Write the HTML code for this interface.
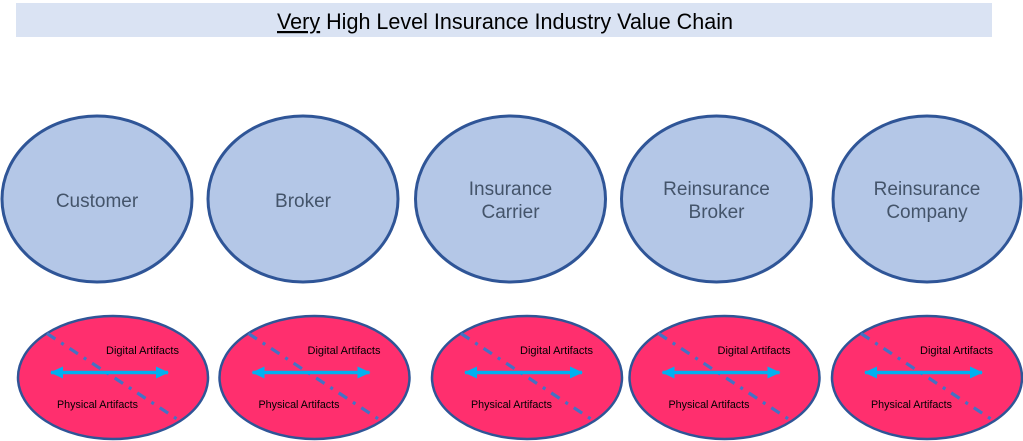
<!DOCTYPE html>
<html>
<head>
<meta charset="utf-8">
<style>
html,body{margin:0;padding:0;background:#fff;}
body{width:1023px;height:441px;overflow:hidden;}
svg{display:block;}
</style>
</head>
<body>
<svg width="1023" height="441" viewBox="0 0 1023 441" xmlns="http://www.w3.org/2000/svg">
  <defs>
    <marker id="ah" viewBox="0 0 13 12" refX="12" refY="6" markerWidth="13" markerHeight="12" markerUnits="userSpaceOnUse" orient="auto-start-reverse">
      <path d="M0,0 L13,6 L0,12 z" fill="#00b0f0"/>
    </marker>
  </defs>
  <!-- Title bar -->
  <rect x="16" y="3" width="976" height="34" fill="#dae3f3"/>
  <text x="277" y="29" font-family="Liberation Sans, sans-serif" font-size="22" fill="#000" textLength="456" lengthAdjust="spacingAndGlyphs"><tspan text-decoration="underline">Very</tspan> High Level Insurance Industry Value Chain</text>

  <!-- Blue ellipses -->
  <g fill="#b4c7e7" stroke="#2f5597" stroke-width="3">
    <ellipse cx="97" cy="199" rx="95" ry="83"/>
    <ellipse cx="303" cy="199" rx="95" ry="83"/>
    <ellipse cx="510.5" cy="199" rx="95" ry="83"/>
    <ellipse cx="716.5" cy="199" rx="95" ry="83"/>
    <ellipse cx="927" cy="199" rx="94" ry="83"/>
  </g>
  <g font-family="Liberation Sans, sans-serif" font-size="19" fill="#44546a" text-anchor="middle">
    <text x="97" y="207">Customer</text>
    <text x="303" y="207">Broker</text>
    <text x="510.5" y="195">Insurance</text>
    <text x="510.5" y="218">Carrier</text>
    <text x="716.5" y="195">Reinsurance</text>
    <text x="716.5" y="218">Broker</text>
    <text x="927" y="195">Reinsurance</text>
    <text x="927" y="218">Company</text>
  </g>

  <!-- Pink ellipses -->
  <g id="p1" transform="translate(113,377.5)">
    <ellipse cx="0" cy="0" rx="95" ry="61.5" fill="#ff2f6e" stroke="#2f5597" stroke-width="2.5"/>
    <line x1="-66" y1="-44" x2="67" y2="43.5" stroke="#4472c4" stroke-width="3.2" stroke-dasharray="10 7 3 7"/>
    <line x1="-62" y1="-5" x2="55" y2="-5" stroke="#00b0f0" stroke-width="3.5" marker-start="url(#ah)" marker-end="url(#ah)"/>
    <text x="-7" y="-23.5" font-family="Liberation Sans, sans-serif" font-size="11" fill="#000" textLength="73" lengthAdjust="spacingAndGlyphs">Digital Artifacts</text>
    <text x="-56" y="30.5" font-family="Liberation Sans, sans-serif" font-size="11" fill="#000" textLength="81" lengthAdjust="spacingAndGlyphs">Physical Artifacts</text>
  </g>
  <use href="#p1" transform="translate(201.5,0)"/>
  <use href="#p1" transform="translate(414,0)"/>
  <use href="#p1" transform="translate(611.5,0)"/>
  <use href="#p1" transform="translate(814,0)"/>
</svg>
</body>
</html>
